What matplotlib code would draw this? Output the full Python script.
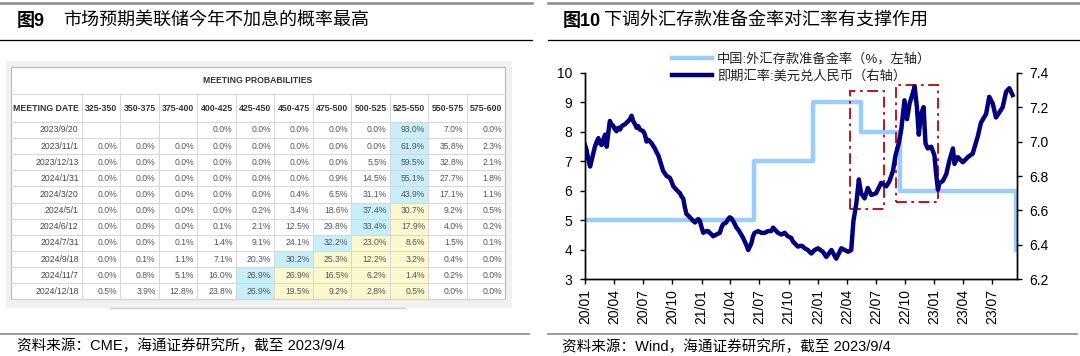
import matplotlib
matplotlib.use('Agg')
import matplotlib.pyplot as plt
import matplotlib.dates as mdates
import numpy as np
from matplotlib.patches import Rectangle
from matplotlib.lines import Line2D
from matplotlib.ticker import MultipleLocator, FormatStrFormatter

plt.rcParams['font.family'] = ['Liberation Sans', 'Noto Sans CJK SC']

# ---- left: CME FedWatch table ----
rate_bins = ['325-350', '350-375', '375-400', '400-425', '425-450', '450-475',
             '475-500', '500-525', '525-550', '550-575', '575-600']
meeting_dates = ['2023/9/20', '2023/11/1', '2023/12/13', '2024/1/31', '2024/3/20',
                 '2024/5/1', '2024/6/12', '2024/7/31', '2024/9/18', '2024/11/7', '2024/12/18']
probs = [
    [None, None, None, 0.0, 0.0, 0.0, 0.0, 0.0, 93.0, 7.0, 0.0],
    [0.0, 0.0, 0.0, 0.0, 0.0, 0.0, 0.0, 0.0, 61.9, 35.8, 2.3],
    [0.0, 0.0, 0.0, 0.0, 0.0, 0.0, 0.0, 5.5, 59.5, 32.8, 2.1],
    [0.0, 0.0, 0.0, 0.0, 0.0, 0.0, 0.9, 14.5, 55.1, 27.7, 1.8],
    [0.0, 0.0, 0.0, 0.0, 0.0, 0.4, 6.5, 31.1, 43.9, 17.1, 1.1],
    [0.0, 0.0, 0.0, 0.0, 0.2, 3.4, 18.6, 37.4, 30.7, 9.2, 0.5],
    [0.0, 0.0, 0.0, 0.1, 2.1, 12.5, 29.8, 33.4, 17.9, 4.0, 0.2],
    [0.0, 0.0, 0.1, 1.4, 9.1, 24.1, 32.2, 23.0, 8.6, 1.5, 0.1],
    [0.0, 0.1, 1.1, 7.1, 20.3, 30.2, 25.3, 12.2, 3.2, 0.4, 0.0],
    [0.0, 0.8, 5.1, 16.0, 26.9, 26.9, 16.5, 6.2, 1.4, 0.2, 0.0],
    [0.5, 3.9, 12.8, 23.8, 26.9, 19.5, 9.2, 2.8, 0.5, 0.0, 0.0],
]
current_bin = '525-550'

# ---- right: FX deposit reserve ratio (left axis) and USD/CNY (right axis) ----
rrr_dates = ['2020-01-01', '2021-06-15', '2021-12-15', '2022-05-15', '2022-09-15', '2023-09-15']
rrr_vals = [5, 7, 9, 8, 6, 4]

# days after 2020-01-01
fx_day = [0, 5, 10, 16, 22, 31, 37, 42, 47, 52,
          57, 63, 68, 73, 78, 83, 89, 94, 99, 104,
          110, 115, 125, 136, 141, 146, 151, 157, 162, 167,
          172, 183, 188, 193, 199, 209, 219, 224, 230, 235,
          240, 245, 256, 266, 271, 277, 282, 292, 298, 303,
          308, 313, 318, 324, 329, 339, 345, 355, 360, 366,
          371, 381, 386, 397, 402, 412, 423, 428, 433, 443,
          449, 454, 459, 464, 470, 475, 480, 490, 496, 501,
          506, 512, 517, 522, 527, 532, 543, 553, 564, 574,
          584, 590, 595, 605, 616, 626, 636, 647, 652, 657,
          668, 678, 684, 689, 699, 704, 710, 720, 731, 746,
          757, 773, 788, 804, 825, 835, 842, 851, 859, 866,
          877, 887, 898, 913, 929, 945, 955, 966, 974, 984,
          992, 1002, 1010, 1018, 1028, 1034, 1041, 1047, 1054, 1062,
          1068, 1075, 1086, 1096, 1101, 1107, 1112, 1122, 1133, 1143,
          1154, 1159, 1169, 1185, 1201, 1216, 1232, 1242, 1258, 1268,
          1279, 1289, 1300, 1310, 1321, 1331, 1341]
fx_rate = [6.98, 6.95, 6.90, 6.855, 6.90, 6.97, 7.00, 7.02, 6.99, 6.98,
           7.01, 7.04, 6.97, 7.05, 7.12, 7.10, 7.09, 7.07, 7.06, 7.08,
           7.07, 7.09, 7.10, 7.12, 7.13, 7.15, 7.12, 7.10, 7.08, 7.09,
           7.07, 7.06, 7.04, 7.00, 7.01, 6.99, 6.96, 6.94, 6.92, 6.89,
           6.86, 6.83, 6.80, 6.79, 6.77, 6.74, 6.73, 6.71, 6.70, 6.68,
           6.67, 6.62, 6.58, 6.57, 6.56, 6.54, 6.53, 6.55, 6.54, 6.50,
           6.47, 6.48, 6.48, 6.46, 6.45, 6.46, 6.47, 6.50, 6.52, 6.53,
           6.55, 6.56, 6.555, 6.54, 6.52, 6.50, 6.49, 6.46, 6.44, 6.42,
           6.40, 6.37, 6.39, 6.41, 6.45, 6.47, 6.48, 6.47, 6.47, 6.48,
           6.48, 6.50, 6.49, 6.47, 6.46, 6.47, 6.45, 6.44, 6.42, 6.41,
           6.39, 6.395, 6.39, 6.38, 6.37, 6.36, 6.35, 6.37, 6.38, 6.36,
           6.33, 6.37, 6.32, 6.38, 6.36, 6.37, 6.54, 6.64, 6.78, 6.70,
           6.67, 6.73, 6.69, 6.70, 6.76, 6.74, 6.77, 6.83, 6.92, 6.99,
           7.07, 7.24, 7.13, 7.22, 7.28, 7.32, 7.20, 7.04, 7.16, 7.20,
           6.99, 6.96, 6.97, 6.92, 6.82, 6.72, 6.76, 6.77, 6.81, 6.89,
           6.96, 6.87, 6.91, 6.88, 6.91, 6.93, 7.03, 7.11, 7.16, 7.26,
           7.22, 7.14, 7.17, 7.20, 7.29, 7.31, 7.27]

# highlighted periods (dash-dot boxes, right axis units)
box_start = ['2022-04-10', '2022-09-01']
box_end = ['2022-07-26', '2023-01-11']
box_low = [6.61, 6.65]
box_high = [7.295, 7.33]

rrr_label = '中国:外汇存款准备金率（%，左轴）'
fx_label = '即期汇率:美元兑人民币（右轴）'

W, H = 1080, 356
fig = plt.figure(figsize=(W / 100, H / 100), dpi=100)

# page layer in pixel coordinates (titles, rules, table)
page = fig.add_axes([0, 0, 1, 1])
page.set_xlim(0, W)
page.set_ylim(H, 0)
page.axis('off')

for x0, x1 in [(0, 532), (548, 1080)]:
    page.plot([x0, x1], [2.8, 2.8], color='#8a8a8a', lw=1.8)
    page.plot([x0, x1], [39.6, 39.6], color='black', lw=0.9)
    page.plot([x0, x1 - 3], [333.7, 333.7], color='#8a8a8a', lw=1.2)

page.text(17, 21, '图9', fontsize=13, fontweight='bold', va='center')
page.text(63.5, 21, '市场预期美联储今年不加息的概率最高', fontsize=13, va='center')
page.text(563, 21, '图10', fontsize=13, fontweight='bold', va='center')
page.text(604, 21, '下调外汇存款准备金率对汇率有支撑作用', fontsize=13, va='center')
page.text(17, 346, '资料来源：CME，海通证券研究所，截至 2023/9/4', fontsize=10.5, va='center')
page.text(562, 347, '资料来源：Wind，海通证券研究所，截至 2023/9/4', fontsize=10.5, va='center')

# table
tx0, tx1 = 10.5, 505.2
date_w = 71.3
col_w = (tx1 - tx0 - date_w) / len(rate_bins)
col_edges = [tx0, tx0 + date_w] + [tx0 + date_w + col_w * (k + 1) for k in range(len(rate_bins))]
ty0, th1, th2 = 67.3, 94.3, 121.9
row_h = 16.13
ty1 = th2 + row_h * len(meeting_dates)

page.add_patch(Rectangle((6, 61), 506, 247, fc='#f1f1f1', ec='none'))
page.plot([110, 405], [307.5, 307.5], color='#d0d0d0', lw=1.0)
page.add_patch(Rectangle((tx0, ty0), tx1 - tx0, ty1 - ty0, fc='white', ec='none'))

cyan, yellow = '#c6eff9', '#fbf7cf'
cur = rate_bins.index(current_bin)
for i, row in enumerate(probs):
    y = th2 + i * row_h
    vals = [v if v is not None else -1 for v in row]
    top = int(np.argmax(vals))
    for j, v in enumerate(row):
        fc = None
        if j == top:
            fc = cyan
        elif top < j <= cur:
            fc = yellow
        if fc:
            page.add_patch(Rectangle((col_edges[j + 1], y), col_w, row_h, fc=fc, ec='none'))
        if v is not None:
            page.text(col_edges[j + 2] - 3.2, y + row_h / 2, f'{v:.1f}%', fontsize=6.2,
                      ha='right', va='center', color='#555555')
    page.text(col_edges[1] - 3.2, y + row_h / 2, meeting_dates[i], fontsize=6.2,
              ha='right', va='center', color='#444444')

grid_c = '#d6d6d6'
for k in range(len(meeting_dates) + 1):
    yy = th2 + k * row_h
    page.plot([tx0, tx1], [yy, yy], color=grid_c, lw=0.7)
page.plot([tx0, tx1], [th1, th1], color=grid_c, lw=0.7)
for xe in col_edges[1:-1]:
    page.plot([xe, xe], [th1, ty1], color=grid_c, lw=0.7)
page.add_patch(Rectangle((tx0, ty0), tx1 - tx0, ty1 - ty0, fc='none', ec='#bdbdbd', lw=0.9))

page.text((tx0 + tx1) / 2, (ty0 + th1) / 2, 'MEETING PROBABILITIES', fontsize=6.2,
          fontweight='bold', ha='center', va='center', color='#333333')
page.text((col_edges[0] + col_edges[1]) / 2, (th1 + th2) / 2, 'MEETING DATE', fontsize=6.3,
          fontweight='bold', ha='center', va='center', color='#333333')
for j, b in enumerate(rate_bins):
    page.text((col_edges[j + 1] + col_edges[j + 2]) / 2, (th1 + th2) / 2, b, fontsize=6.3,
              fontweight='bold', ha='center', va='center', color='#333333')

# chart
ax = fig.add_axes([585 / W, (H - 279.3) / H, (1017 - 585) / W, (279.3 - 72.7) / H])
rrr_x = np.array(rrr_dates, dtype='datetime64[D]')
fx_x = np.datetime64('2020-01-01') + np.array(fx_day).astype('timedelta64[D]')

light, navy = '#99ccff', '#00007f'
ax.step(rrr_x, rrr_vals, where='post', color=light, lw=3.2)
ax.set_ylim(3, 10)
ax.yaxis.set_major_locator(MultipleLocator(1))
ax.set_xlim(np.datetime64('2020-01-01'), np.datetime64('2023-09-17'))
ax.xaxis.set_major_locator(mdates.MonthLocator(bymonth=[1, 4, 7, 10]))
ax.xaxis.set_major_formatter(mdates.DateFormatter('%y/%m'))

ax2 = ax.twinx()
ax2.plot(fx_x, fx_rate, color=navy, lw=3.2, solid_joinstyle='round')
ax2.set_ylim(6.2, 7.4)
ax2.yaxis.set_major_locator(MultipleLocator(0.2))
ax2.yaxis.set_major_formatter(FormatStrFormatter('%.1f'))

for s, e, lo, hi in zip(box_start, box_end, box_low, box_high):
    x0 = mdates.date2num(np.datetime64(s))
    x1 = mdates.date2num(np.datetime64(e))
    ax2.add_patch(Rectangle((x0, lo), x1 - x0, hi - lo, fill=False, ec='#c00000',
                            lw=1.3, ls=(0, (6, 2.5, 1.5, 2.5))))

for a in (ax, ax2):
    a.spines['top'].set_visible(False)
    for sp in a.spines.values():
        sp.set_linewidth(1.0)
    a.tick_params(direction='out', length=3.6, width=1.0, labelsize=10, pad=5.5)
ax.tick_params(axis='x', labelrotation=90, pad=3.5)

handles = [Line2D([], [], color=light, lw=3.2), Line2D([], [], color=navy, lw=3.2)]
fig.legend(handles, [rrr_label, fx_label], loc='upper left',
           bbox_to_anchor=(672 / W, 1 - 53 / H), frameon=False, fontsize=9.5,
           handlelength=3.0, handletextpad=0.4, labelspacing=0.25,
           borderpad=0, borderaxespad=0, labelcolor='#222222')

fig.savefig('out.png', dpi=100)
